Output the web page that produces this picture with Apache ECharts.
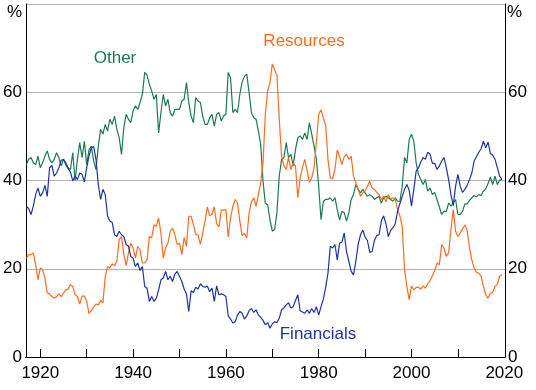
<!DOCTYPE html>
<html>
<head>
<meta charset="utf-8">
<script src="https://cdn.jsdelivr.net/npm/echarts@6/dist/echarts.min.js"></script>
<style>
html,body{margin:0;padding:0;background:#fff;}
#chart{width:536px;height:390px;}
</style>
</head>
<body>
<div id="chart"></div>
<script>
// Half-yearly observations starting 1917.0
const START_YEAR = 1917;
const STEP_YEARS = 0.5;

const other = [
  43.6, 44.8, 45.2, 44.0, 43.6, 45.5, 42.9, 44.0, 45.5, 46.7,
  44.8, 44.0, 44.8, 46.3, 45.2, 43.3, 44.8, 44.0, 42.9, 42.5,
  46.3, 40.0, 44.8, 48.6, 45.2, 48.9, 43.6, 47.0, 47.8, 44.4,
  42.5, 47.8, 51.6, 50.5, 52.7, 51.2, 53.9, 52.7, 54.6, 51.6,
  49.7, 45.9, 52.0, 55.0, 53.9, 53.1, 55.8, 56.9, 56.1, 57.7,
  59.5, 64.5, 63.9, 61.8, 60.3, 58.4, 59.5, 50.8, 55.4, 59.5,
  56.9, 58.4, 55.4, 54.6, 56.1, 56.1, 56.1, 58.0, 58.4, 62.2,
  57.7, 54.6, 53.1, 58.8, 58.0, 57.7, 54.6, 52.7, 52.7, 54.2,
  55.0, 52.3, 55.0, 55.4, 53.5, 54.6, 55.0, 64.5, 63.3, 55.4,
  56.1, 55.4, 59.5, 62.3, 63.6, 64.1, 59.9, 55.4, 54.2, 53.9,
  51.2, 48.2, 39.8, 34.8, 34.5, 31.1, 28.5, 28.9, 32.7, 41.0,
  44.8, 45.2, 48.6, 45.2, 45.9, 43.3, 47.0, 49.7, 50.1, 49.3,
  50.8, 49.3, 53.1, 50.5, 47.8, 44.8, 38.7, 31.1, 35.3, 35.7,
  35.7, 36.1, 35.3, 36.1, 33.4, 31.1, 33.0, 32.7, 30.8, 32.7,
  35.7, 36.8, 39.1, 38.0, 37.2, 38.0, 37.2, 36.4, 36.8, 36.4,
  35.7, 36.1, 36.4, 34.9, 36.1, 36.4, 36.1, 35.7, 35.3, 36.1,
  35.3, 35.3, 38.7, 45.2, 44.0, 49.3, 50.5, 48.9, 44.0, 41.4,
  40.2, 39.1, 40.2, 37.6, 38.3, 36.8, 37.3, 35.7, 34.0, 32.3,
  33.0, 33.0, 34.9, 34.2, 34.9, 35.7, 32.3, 32.3, 33.0, 34.7,
  34.7, 35.5, 36.1, 36.6, 36.3, 36.8, 36.6, 37.6, 38.1, 39.3,
  40.8, 39.1, 41.0, 39.1, 40.1, 40.2
];

const resources = [
  22.4, 23.2, 23.2, 23.6, 20.9, 17.5, 20.2, 19.8, 17.9, 14.5,
  14.3, 13.7, 13.3, 13.7, 14.3, 13.7, 14.5, 15.2, 15.4, 16.4,
  16.0, 14.1, 13.7, 12.0, 13.8, 13.8, 12.6, 9.9, 10.5, 11.3,
  12.0, 11.8, 12.8, 12.3, 18.3, 20.5, 20.2, 21.1, 20.7, 21.7,
  26.6, 27.3, 23.3, 20.7, 23.6, 25.8, 24.7, 22.4, 25.1, 24.3,
  21.3, 21.3, 22.0, 27.3, 27.0, 30.0, 29.6, 31.5, 28.1, 22.4,
  24.7, 25.8, 28.5, 29.2, 27.7, 25.5, 25.8, 23.2, 27.1, 25.1,
  31.9, 31.9, 30.0, 27.7, 27.7, 25.5, 28.1, 30.8, 34.0, 32.0,
  32.3, 34.0, 30.2, 29.5, 33.3, 33.3, 33.4, 27.2, 31.5, 34.2,
  35.7, 34.9, 30.8, 27.5, 28.0, 27.0, 32.7, 35.1, 36.1, 34.2,
  36.8, 39.5, 44.0, 55.0, 60.3, 62.2, 66.4, 65.1, 63.9, 53.9,
  45.5, 43.3, 42.5, 45.2, 42.5, 44.0, 43.3, 36.1, 40.6, 42.9,
  44.8, 42.3, 39.6, 40.6, 42.9, 48.6, 55.0, 56.0, 54.2, 52.5,
  44.8, 40.6, 40.4, 42.5, 46.9, 45.5, 43.6, 45.4, 45.9, 44.8,
  45.5, 41.0, 39.5, 38.1, 36.4, 37.2, 37.6, 38.7, 39.8, 38.3,
  38.0, 37.3, 36.8, 35.7, 36.4, 35.1, 36.8, 35.8, 36.1, 35.8,
  33.4, 32.0, 29.6, 19.8, 16.0, 13.0, 16.1, 15.2, 15.8, 15.8,
  15.4, 16.1, 15.6, 16.6, 17.3, 18.4, 19.6, 21.3, 20.9, 25.5,
  24.7, 22.8, 23.6, 28.9, 33.4, 28.5, 27.3, 28.1, 29.0, 29.9,
  28.7, 24.7, 22.0, 20.2, 19.2, 19.0, 18.3, 16.0, 14.1, 13.3,
  14.5, 14.6, 16.0, 16.4, 18.3, 18.6
];

const financials = [
  34.2, 33.6, 32.3, 34.2, 36.8, 38.3, 36.4, 37.2, 38.9, 36.4,
  42.9, 43.4, 41.0, 41.7, 42.9, 44.6, 44.8, 43.6, 42.7, 41.9,
  39.9, 41.0, 40.2, 41.7, 41.4, 39.7, 42.9, 45.5, 47.4, 47.7,
  44.8, 39.1, 35.7, 38.0, 36.8, 31.9, 30.8, 30.5, 27.7, 27.3,
  28.5, 27.7, 27.3, 25.5, 25.1, 22.8, 22.4, 20.5, 21.3, 19.6,
  20.5, 16.0, 15.6, 12.6, 13.7, 12.6, 13.3, 15.2, 17.5, 17.9,
  19.4, 17.5, 18.3, 17.1, 18.8, 19.4, 18.3, 17.1, 15.4, 14.3,
  10.3, 15.0, 14.6, 15.8, 15.4, 16.6, 16.0, 15.8, 16.1, 14.8,
  15.6, 12.6, 16.1, 14.1, 14.3, 14.1, 13.7, 9.3, 8.6, 7.7,
  8.0, 9.5, 10.3, 9.9, 8.6, 9.3, 10.5, 11.0, 10.1, 10.7,
  9.5, 9.0, 8.3, 7.3, 7.8, 6.5, 7.5, 8.0, 7.8, 8.8,
  10.7, 11.1, 11.8, 12.3, 11.1, 11.4, 12.8, 14.1, 10.5, 10.2,
  9.9, 10.7, 9.9, 11.0, 10.1, 11.4, 9.5, 11.4, 13.1, 15.8,
  19.0, 25.1, 24.7, 25.5, 22.0, 25.8, 26.0, 28.1, 23.9, 21.7,
  19.4, 18.6, 21.7, 25.5, 27.7, 28.8, 27.2, 26.4, 23.7, 23.9,
  26.4, 27.5, 27.7, 30.8, 32.0, 30.2, 27.3, 28.7, 29.3, 30.2,
  33.0, 34.8, 36.4, 38.0, 39.1, 37.8, 34.2, 38.0, 42.1, 42.9,
  44.2, 45.2, 44.8, 46.4, 46.0, 43.9, 43.9, 42.5, 43.3, 44.4,
  45.2, 42.9, 40.2, 36.8, 34.3, 38.7, 41.4, 38.7, 37.3, 38.0,
  38.9, 40.2, 41.7, 44.4, 45.4, 46.4, 47.2, 48.9, 47.4, 48.7,
  46.1, 45.7, 44.8, 42.9, 41.0, 40.2
];

const xTickYears = [1920, 1930, 1940, 1950, 1960, 1970, 1980, 1990, 2000, 2010];
const xLabelYears = [1920, 1940, 1960, 1980, 2000, 2020];
const yTickValues = [0, 20, 40, 60];
const seriesNames = ['Other', 'Resources', 'Financials'];
const seriesColors = ['#1b7a4e', '#ff6b1e', '#1e33a8'];

function toPairs(vals) {
  return vals.map(function (v, i) { return [START_YEAR + i * STEP_YEARS, v]; });
}

const X_MIN = 1916.9, X_MAX = 2020.15;
const FONT = 'Arial, "Liberation Sans", sans-serif';

const chart = echarts.init(document.getElementById('chart'), null, {renderer: 'canvas'});

const option = {
  animation: false,
  backgroundColor: '#ffffff',
  grid: {left: 25, right: 31, top: 4, bottom: 33, containLabel: false},
  xAxis: [
    {
      type: 'value', position: 'bottom', min: X_MIN, max: X_MAX, z: 5,
      axisLine: {show: true, lineStyle: {color: '#000', width: 1}},
      axisTick: {show: true, inside: true, length: 8, lineStyle: {color: '#000', width: 1}, customValues: xTickYears},
      axisLabel: {show: true, customValues: xLabelYears, fontSize: 17, fontFamily: FONT, color: '#000', margin: 8,
        formatter: function (v) { return String(Math.round(v)); }},
      splitLine: {show: false}
    },
    {
      type: 'value', position: 'top', min: X_MIN, max: X_MAX, z: 5,
      axisLine: {show: true, lineStyle: {color: '#000', width: 1}},
      axisTick: {show: false}, axisLabel: {show: false}, splitLine: {show: false}
    }
  ],
  yAxis: [
    {
      type: 'value', position: 'left', min: 0, max: 80, interval: 20, z: 0,
      axisLine: {show: true, lineStyle: {color: '#000', width: 1}},
      axisTick: {show: false},
      axisLabel: {fontSize: 17, fontFamily: FONT, color: '#000', margin: 4,
        formatter: function (v) { return yTickValues.indexOf(v) >= 0 ? String(v) : ''; }},
      splitLine: {show: true, lineStyle: {color: '#b3b3b3', width: 1}}
    },
    {
      type: 'value', position: 'right', min: 0, max: 80, interval: 20, z: 5,
      axisLine: {show: true, lineStyle: {color: '#000', width: 1}},
      axisTick: {show: false},
      axisLabel: {fontSize: 17, fontFamily: FONT, color: '#000', margin: 3,
        formatter: function (v) { return yTickValues.indexOf(v) >= 0 ? String(v) : ''; }},
      splitLine: {show: false}
    }
  ],
  series: [
    {name: seriesNames[0], type: 'line', data: toPairs(other), showSymbol: false, symbol: 'none',
      lineStyle: {color: seriesColors[0], width: 1.2}, z: 2},
    {name: seriesNames[1], type: 'line', data: toPairs(resources), showSymbol: false, symbol: 'none',
      lineStyle: {color: seriesColors[1], width: 1.2}, z: 2},
    {name: seriesNames[2], type: 'line', data: toPairs(financials), showSymbol: false, symbol: 'none',
      lineStyle: {color: seriesColors[2], width: 1.2}, z: 2}
  ],
  graphic: [
    {type: 'text', left: 7, top: 4, style: {text: '%', fontSize: 17, fontFamily: FONT, fill: '#000'}},
    {type: 'text', left: 507, top: 4, style: {text: '%', fontSize: 17, fontFamily: FONT, fill: '#000'}},
    {type: 'text', x: 115, y: 58, style: {text: seriesNames[0], fontSize: 17, fontFamily: FONT, fill: seriesColors[0], align: 'center', verticalAlign: 'middle'}},
    {type: 'text', x: 304, y: 41, style: {text: seriesNames[1], fontSize: 17, fontFamily: FONT, fill: seriesColors[1], align: 'center', verticalAlign: 'middle'}},
    {type: 'text', x: 318, y: 334, style: {text: seriesNames[2], fontSize: 17, fontFamily: FONT, fill: seriesColors[2], align: 'center', verticalAlign: 'middle'}}
  ]
};

chart.setOption(option);
</script>
</body>
</html>
